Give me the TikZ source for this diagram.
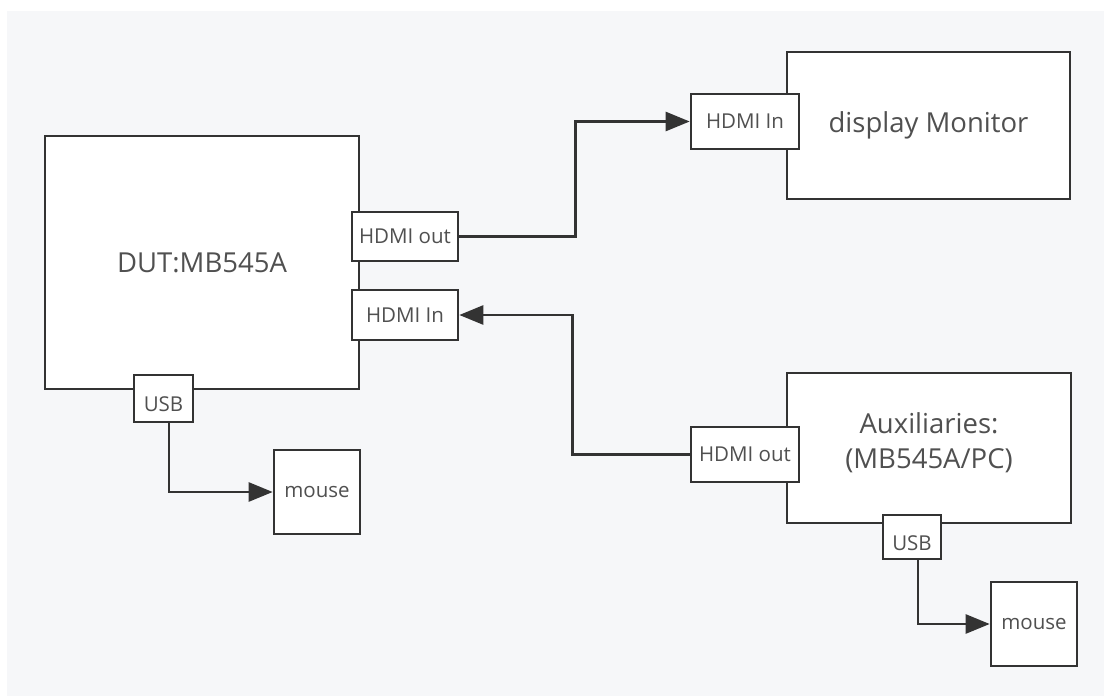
\documentclass[tikz,border=0pt]{standalone}
\usepackage{fontspec}
\setmainfont{Open Sans}
\usetikzlibrary{arrows.meta}
\definecolor{bggray}{HTML}{F6F7F9}
\definecolor{linec}{HTML}{333333}
\definecolor{textc}{HTML}{505050}
\tikzset{
  box/.style={draw=linec, line width=2.6pt, fill=white, rectangle, inner sep=0pt, text=textc, align=center},
  bigtext/.style={font=\fontsize{27.5}{35}\selectfont},
  smalltext/.style={font=\fontsize{20.5}{24}\selectfont},
  conn/.style={draw=linec, line width=2.6pt},
  arr/.style={conn, -{Triangle[length=24pt 0 0, width=19pt 0 0]}},
  usblabel/.style={label={[smalltext, text=textc, yshift=-6pt]center:USB}}
}
\begin{document}
\begin{tikzpicture}[x=1pt, y=-1pt]
\useasboundingbox (0,0) rectangle (1104,696);
\fill[white] (0,0) rectangle (1104,696);
\fill[bggray] (7,11) rectangle (1104,696);

% main boxes
\node[box, bigtext, minimum width=314pt, minimum height=253pt] (dut) at (202,262.5) {DUT:MB545A};
\node[box, bigtext, minimum width=283pt, minimum height=147pt] (mon) at (928.5,125.5) {display Monitor};
\node[box, minimum width=284pt, minimum height=150pt,
      label={[bigtext, text=textc, align=center, yshift=5pt]center:Auxiliaries:\\(MB545A/PC)}] (aux) at (929,448) {};
\node[box, smalltext, minimum width=86pt, minimum height=84pt] (mouseA) at (317,492) {mouse};
\node[box, smalltext, minimum width=86pt, minimum height=84pt] (mouseB) at (1034,624) {mouse};

% ports
\node[box, smalltext, minimum width=106pt, minimum height=49pt] (dutout) at (405,236.5) {HDMI out};
\node[box, smalltext, minimum width=106pt, minimum height=50pt] (dutin) at (405,315) {HDMI In};
\node[box, minimum width=59pt, minimum height=47pt, usblabel] (dutusb) at (163.5,398.5) {};
\node[box, smalltext, minimum width=108pt, minimum height=55pt] (monin) at (745,121.5) {HDMI In};
\node[box, smalltext, minimum width=108pt, minimum height=55pt] (auxout) at (745,454.5) {HDMI out};
\node[box, minimum width=58pt, minimum height=44pt, usblabel] (auxusb) at (912,537) {};

% connectors
\draw[arr] (dutout.east) -- ++(116,0) |- (monin.west);
\draw[arr] (auxout.west) -- ++(-117,0) |- (dutin.east);
\draw[arr] ([xshift=5.5pt]dutusb.south) |- (mouseA.west);
\draw[arr] ([xshift=6pt]auxusb.south) |- (mouseB.west);
\end{tikzpicture}
\end{document}
